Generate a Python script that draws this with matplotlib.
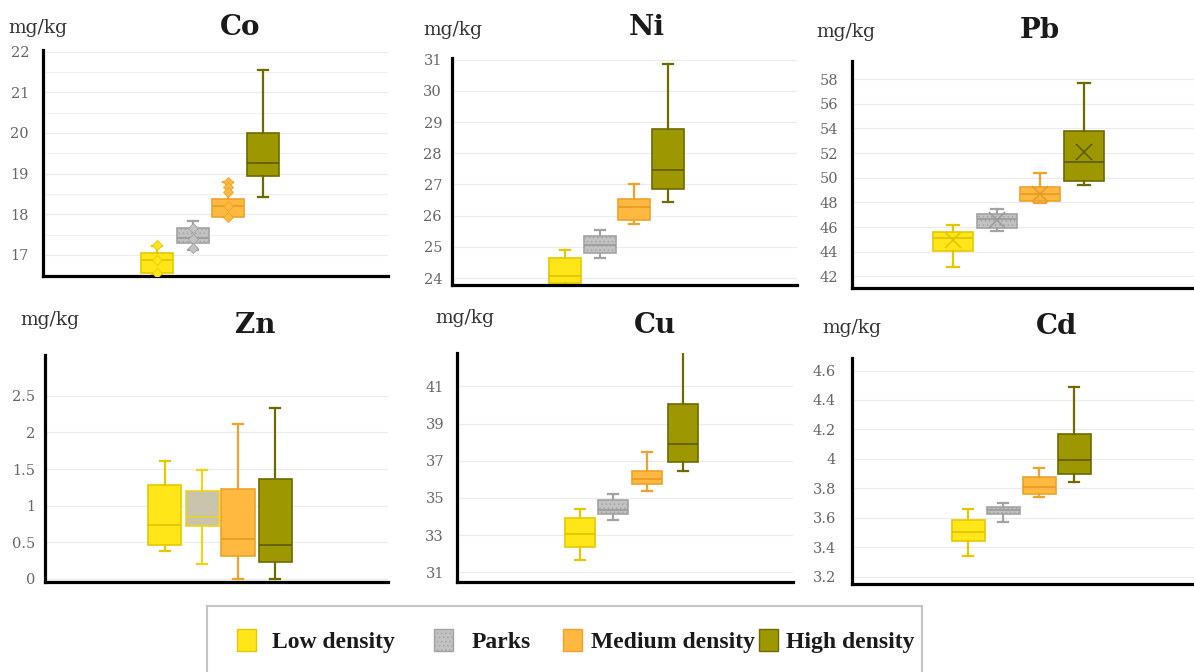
import matplotlib
matplotlib.use("Agg")
import matplotlib.pyplot as plt
from matplotlib.patches import Patch, Rectangle
from matplotlib.font_manager import FontProperties
import numpy as np

# ---------------- data ----------------
groups = ["Low density", "Parks", "Medium density", "High density"]

co_whislo = [16.50, 17.11, 17.92, 18.43]
co_q1 = [16.55, 17.29, 17.94, 18.94]
co_med = [16.88, 17.41, 18.19, 19.25]
co_q3 = [17.04, 17.67, 18.37, 19.99]
co_whishi = [17.23, 17.84, 18.80, 21.55]
co_points = [[17.25, 16.88, 16.55], [17.67, 17.38, 17.18],
             [18.80, 18.67, 18.55, 18.20, 17.92], []]

ni_whislo = [23.70, 24.65, 25.74, 26.43]
ni_q1 = [23.85, 24.82, 25.87, 26.87]
ni_med = [24.07, 25.05, 26.27, 27.46]
ni_q3 = [24.65, 25.34, 26.52, 28.79]
ni_whishi = [24.91, 25.53, 27.03, 30.86]

pb_whislo = [42.73, 45.70, 47.94, 49.42]
pb_q1 = [44.08, 45.92, 48.15, 49.77]
pb_med = [45.09, 46.68, 48.70, 51.26]
pb_q3 = [45.60, 47.08, 49.29, 53.80]
pb_whishi = [46.19, 47.46, 50.42, 57.66]
pb_mean = [44.92, 46.60, 48.70, 52.07]

zn_whislo = [0.378, 0.205, 0.0, 0.0]
zn_q1 = [0.456, 0.716, 0.307, 0.227]
zn_med = [0.73, 0.844, 0.548, 0.456]
zn_q3 = [1.278, 1.20, 1.233, 1.36]
zn_whishi = [1.611, 1.483, 2.123, 2.329]

cu_whislo = [31.65, 33.81, 35.39, 36.47]
cu_q1 = [32.37, 34.13, 35.73, 36.95]
cu_med = [33.04, 34.38, 36.01, 37.91]
cu_q3 = [33.95, 34.89, 36.47, 40.07]
cu_whishi = [34.39, 35.20, 37.49, 43.50]

cd_whislo = [3.343, 3.574, 3.740, 3.846]
cd_q1 = [3.445, 3.626, 3.760, 3.898]
cd_med = [3.500, 3.653, 3.812, 3.993]
cd_q3 = [3.585, 3.676, 3.876, 4.168]
cd_whishi = [3.658, 3.699, 3.937, 4.490]

co_ticks = [17, 18, 19, 20, 21, 22]
ni_ticks = [24, 25, 26, 27, 28, 29, 30, 31]
pb_ticks = [42, 44, 46, 48, 50, 52, 54, 56, 58]
zn_ticks = [0, 0.5, 1, 1.5, 2, 2.5]
cu_ticks = [31, 33, 35, 37, 39, 41]
cd_ticks = [3.2, 3.4, 3.6, 3.8, 4.0, 4.2, 4.4, 4.6]

co_ticklabels = ["17", "18", "19", "20", "21", "22"]
ni_ticklabels = ["24", "25", "26", "27", "28", "29", "30", "31"]
pb_ticklabels = ["42", "44", "46", "48", "50", "52", "54", "56", "58"]
zn_ticklabels = ["0", "0.5", "1", "1.5", "2", "2.5"]
cu_ticklabels = ["31", "33", "35", "37", "39", "41"]
cd_ticklabels = ["3.2", "3.4", "3.6", "3.8", "4", "4.2", "4.4", "4.6"]

# ---------------- style ----------------
fills = ["#FFE619", "#C2C2C2", "#FFB840", "#9E9800"]
edges = ["#E6C800", "#A3A3A3", "#F0A22A", "#6F6A00"]
meds = ["#E0C200", "#9A9A9A", "#E89A20", "#5E5A00"]

W, H = 1194, 672
fig = plt.figure(figsize=(W / 100, H / 100), dpi=100)
fig.patch.set_facecolor("white")

SERIF = "DejaVu Serif"
LEGSERIF = "Liberation Serif"


def fx(x):
    return x / W


def fy(y):
    return 1 - y / H


panels = [
    dict(name="Co", s=(co_whislo, co_q1, co_med, co_q3, co_whishi), ticks=co_ticks, tl=co_ticklabels,
         ylim=(16.48, 22.04), minor=0.5, box=(43, 388, 50, 276), cx=(157, 193, 228, 263), bw=32,
         title=(240, 35), unit=(8, 33), pad=14),
    dict(name="Ni", s=(ni_whislo, ni_q1, ni_med, ni_q3, ni_whishi), ticks=ni_ticks, tl=ni_ticklabels,
         ylim=(23.78, 31.05), minor=None, box=(452, 797, 58, 285), cx=(565, 600, 634, 668), bw=32,
         title=(647, 35), unit=(423, 35), pad=10),
    dict(name="Pb", s=(pb_whislo, pb_q1, pb_med, pb_q3, pb_whishi), ticks=pb_ticks, tl=pb_ticklabels,
         ylim=(41.06, 59.47), minor=None, box=(852, 1194, 61, 288), cx=(953, 997, 1040, 1084), bw=40,
         title=(1040, 38), unit=(816, 37), pad=14),
    dict(name="Zn", s=(zn_whislo, zn_q1, zn_med, zn_q3, zn_whishi), ticks=zn_ticks, tl=zn_ticklabels,
         ylim=(-0.045, 3.06), minor=None, box=(45, 388, 355, 582), cx=(165, 202, 238, 275), bw=33,
         title=(255, 333), unit=(20, 325), pad=10),
    dict(name="Cu", s=(cu_whislo, cu_q1, cu_med, cu_q3, cu_whishi), ticks=cu_ticks, tl=cu_ticklabels,
         ylim=(30.48, 42.8), minor=None, box=(457, 793, 353, 582), cx=(580, 613, 647, 683), bw=30,
         title=(655, 333), unit=(435, 323), pad=13),
    dict(name="Cd", s=(cd_whislo, cd_q1, cd_med, cd_q3, cd_whishi), ticks=cd_ticks, tl=cd_ticklabels,
         ylim=(3.15, 4.685), minor=None, box=(852, 1194, 358, 584), cx=(968, 1003, 1039, 1074), bw=33,
         title=(1057, 334), unit=(822, 333), pad=16),
]

plt.rcParams["hatch.linewidth"] = 0.6

for p in panels:
    L, R, T, B = p["box"]
    ax = fig.add_axes([fx(L), fy(B), (R - L) / W, (B - T) / H])
    c = p["cx"]
    sp = (c[3] - c[0]) / 3.0
    xlo = 1 - (c[0] - L) / sp
    xhi = 4 + (R - c[3]) / sp
    positions = [1 + (ci - c[0]) / sp for ci in c]
    wl, q1, md, q3, wh = p["s"]
    stats = []
    for i in range(4):
        d = dict(whislo=wl[i], q1=q1[i], med=md[i], q3=q3[i], whishi=wh[i], fliers=[])
        if p["name"] == "Pb":
            d["mean"] = pb_mean[i]
        stats.append(d)
    bw = p["bw"] / sp
    res = ax.bxp(stats, positions=positions, widths=bw, patch_artist=True, showfliers=False,
                 showmeans=(p["name"] == "Pb"), manage_ticks=False,
                 capwidths=bw * 0.32)
    for i in range(4):
        ec = edges[i]
        mc = meds[i]
        if p["name"] == "Zn" and i == 1:
            ec = "#F2D21A"
            mc = "#F2D21A"
        box = res["boxes"][i]
        box.set_facecolor(fills[i])
        box.set_edgecolor(ec)
        box.set_linewidth(1.2)
        if i == 1:
            box.set_hatch("....")
        for ln in res["whiskers"][2 * i:2 * i + 2] + res["caps"][2 * i:2 * i + 2]:
            ln.set_color(ec)
            ln.set_linewidth(1.6)
        res["medians"][i].set_color(mc)
        res["medians"][i].set_linewidth(1.2)
        if p["name"] == "Pb":
            m = res["means"][i]
            m.set_marker("x")
            m.set_markersize(11)
            m.set_markeredgecolor(meds[i])
            m.set_markeredgewidth(1.1)
    if p["name"] == "Co":
        for i in range(4):
            if co_points[i]:
                ax.scatter([positions[i]] * len(co_points[i]), co_points[i], marker="D", s=26,
                           color=fills[i], edgecolor=edges[i], linewidths=0.6, zorder=4)
    ax.set_xlim(xlo, xhi)
    ax.set_ylim(*p["ylim"])
    ax.set_yticks(p["ticks"])
    ax.set_yticklabels(p["tl"])
    if p["minor"]:
        ax.set_yticks(np.arange(p["ticks"][0] - 0.5, p["ylim"][1], p["minor"]), minor=True)
        ax.grid(axis="y", which="minor", color="#F0F0F0", lw=0.8)
    ax.grid(axis="y", which="major", color="#ECECEC", lw=0.9)
    ax.set_axisbelow(True)
    ax.set_xticks([])
    ax.tick_params(axis="y", which="both", length=0, pad=p["pad"] / 1.389, labelcolor="#666666",
                   labelsize=10.5)
    for lab in ax.get_yticklabels():
        lab.set_fontfamily(SERIF)
    for s in ["top", "right"]:
        ax.spines[s].set_visible(False)
    for s in ["left", "bottom"]:
        ax.spines[s].set_linewidth(2.3)
        ax.spines[s].set_color("black")
    ax.patch.set_alpha(0)
    tx, ty = p["title"]
    fig.text(fx(tx), fy(ty), p["name"], ha="center", va="baseline", family=SERIF, weight="bold",
             fontsize=20, color="#1a1a1a")
    ux, uy = p["unit"]
    fig.text(fx(ux), fy(uy), "mg/kg", ha="left", va="baseline", family=SERIF, fontsize=13.5,
             color="#333333")

# legend
frame = Rectangle((fx(207), fy(690)), (922 - 207) / W, (690 - 606) / H, transform=fig.transFigure,
                  facecolor="white", edgecolor="#C4C4C4", lw=1.5, zorder=0, clip_on=False)
fig.patches.append(frame)
leg_patch_x = [237, 434, 563, 759]
leg_text_x = [272, 472, 591, 786]
LFS = 17
fs_px = LFS * 100 / 72.0
patch_w = 19
for i in range(4):
    h = Patch(facecolor=fills[i], edgecolor=edges[i], hatch="...." if i == 1 else None, lw=1.0)
    lg = fig.legend([h], [groups[i]], loc="center left", bbox_to_anchor=(fx(leg_patch_x[i]), fy(641)),
                    frameon=False, prop=FontProperties(family=LEGSERIF, weight="bold", size=LFS),
                    handlelength=patch_w / fs_px, handleheight=25 / fs_px,
                    handletextpad=(leg_text_x[i] - leg_patch_x[i] - patch_w) / fs_px,
                    borderpad=0, borderaxespad=0)
    for t in lg.get_texts():
        t.set_color("#1a1a1a")

fig.savefig("out.png", dpi=100, facecolor="white")
